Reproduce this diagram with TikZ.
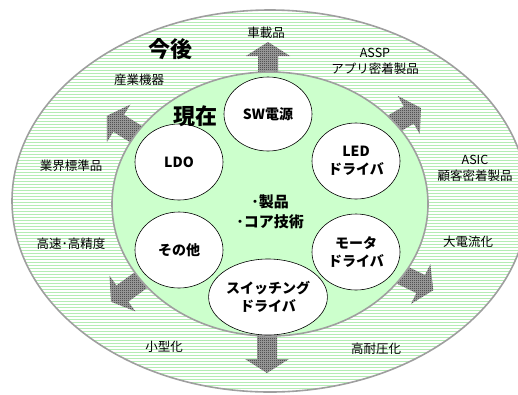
\documentclass[tikz,border=0pt]{standalone}
\usepackage{fontspec}
\setmainfont{Noto Sans CJK JP}
\usetikzlibrary{shapes.geometric,patterns}
\definecolor{ringgreen}{RGB}{180,236,180}
\definecolor{coregreen}{RGB}{204,255,204}
\pgfdeclarepatternformonly{checker}{\pgfpointorigin}{\pgfqpoint{2pt}{2pt}}{\pgfqpoint{2pt}{2pt}}{\pgfpathrectangle{\pgfpointorigin}{\pgfqpoint{1pt}{1pt}}\pgfpathrectangle{\pgfqpoint{1pt}{1pt}}{\pgfqpoint{1pt}{1pt}}\pgfusepath{fill}}
\tikzset{
  stripe/.style={draw=ringgreen, line width=1pt},
  ringedge/.style={draw=gray!75, line width=1.6pt},
  core/.style={fill=coregreen, draw=gray!75, line width=1.6pt},
  item/.style={ellipse, draw=black, line width=0.6pt, fill=white, inner sep=0pt, minimum width=88pt, minimum height=76pt, align=center, font=\bfseries\fontsize{14}{18}\selectfont},
  lbl/.style={font=\fontsize{12.5}{16}\selectfont, inner sep=0pt, align=center},
  big/.style={font=\bfseries\fontsize{22}{24}\selectfont, inner sep=0pt},
  arrowfill/.style={preaction={fill=gray!70}, pattern=checker, pattern color=gray!30!black},
  pics/fatarrow/.style={code={\path[arrowfill] (0,-10) -- ({#1-14},-10) -- ({#1-14},-22) -- (#1,0) -- ({#1-14},22) -- ({#1-14},10) -- (0,10) -- cycle;}}
}
\begin{document}
\begin{tikzpicture}[x=1pt,y=-1pt]
\useasboundingbox (0,0) rectangle (518,394);
\clip (0,0) rectangle (518,394);
% outer ring with horizontal stripes
\begin{scope}
  \clip (270,201) ellipse [x radius=258pt, y radius=191pt];
  \foreach \yy in {1,4,...,394} \path[stripe] (0,\yy) -- (518,\yy);
\end{scope}
\path[ringedge] (270,201) ellipse [x radius=258pt, y radius=191pt];
% arrows
\pic[rotate=90] at (268,76) {fatarrow=34};
\pic[rotate=-90] at (267,332) {fatarrow=41};
\pic[rotate=148] at (139,136) {fatarrow=38};
\pic[rotate=30] at (388,127) {fatarrow=38};
\pic[rotate=-26] at (400,274) {fatarrow=37};
\pic[rotate=216] at (141,280) {fatarrow=37};
% inner core
\path[core] (270,204) ellipse [x radius=158pt, y radius=132pt];
% items
\node[item, minimum height=74pt] (sw) at (268,114) {SW電源};
\node[item] (ldo) at (179,162) {LDO};
\node[item] (led) at (356,161) {LED\\ドライバ};
\node[item] (other) at (179,250) {その他};
\node[item, minimum width=90pt] (swdrv) at (268,297) {スイッチング\\ドライバ};
\node[item] (motor) at (356,252) {モータ\\ドライバ};
\node[font=\bfseries\fontsize{15}{20}\selectfont, align=center, inner sep=0pt] (core) at (270,212) {･製品\\･コア技術};
% titles
\node[big] (future) at (170,49) {今後};
\node[big] (now) at (195,116) {現在};
% labels
\node[lbl] (car) at (266,33) {車載品};
\node[lbl] (assp) at (375,61) {ASSP\\アプリ密着製品};
\node[lbl] (asic) at (475,168) {ASIC\\顧客密着製品};
\node[lbl] (current) at (468,242) {大電流化};
\node[lbl] (hv) at (376,349) {高耐圧化};
\node[lbl] (small) at (164,347) {小型化};
\node[lbl] (speed) at (71,244) {高速･高精度};
\node[lbl] (std) at (71,166) {業界標準品};
\node[lbl] (ind) at (139,80) {産業機器};
\end{tikzpicture}
\end{document}
